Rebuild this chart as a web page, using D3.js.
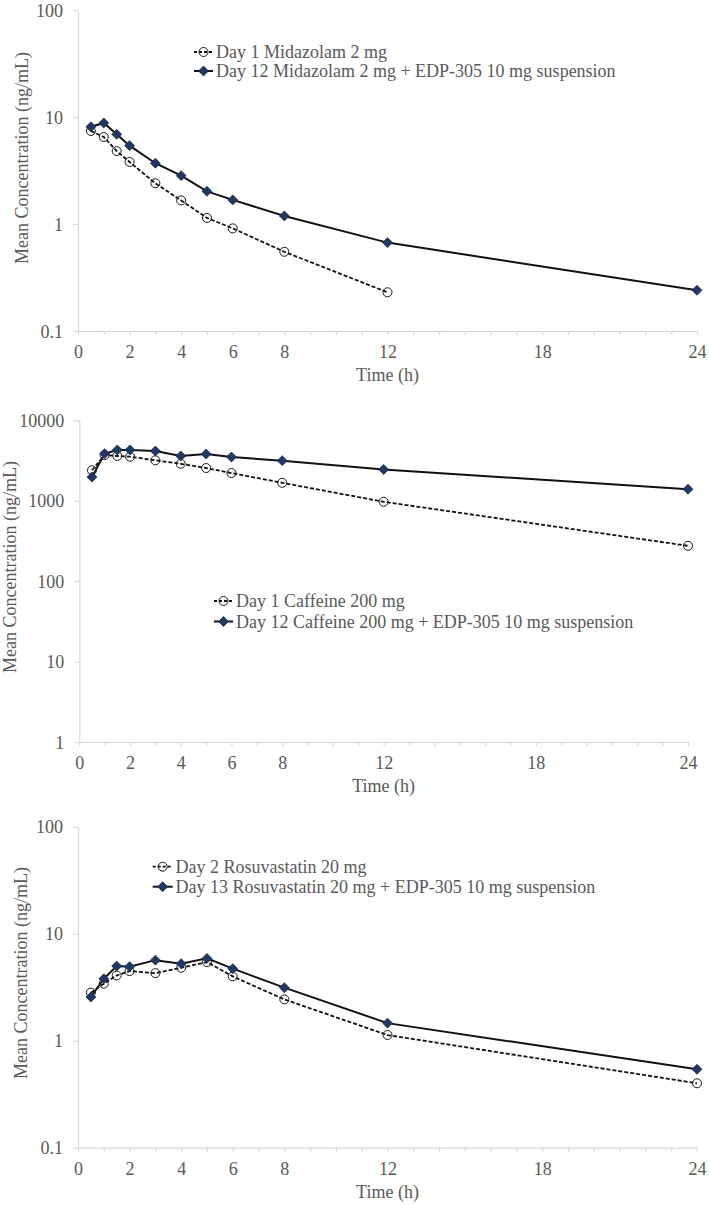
<!DOCTYPE html>
<html>
<head>
<meta charset="utf-8">
<script src="https://cdnjs.cloudflare.com/ajax/libs/d3/7.8.5/d3.min.js"></script>
<style>
  html, body { margin: 0; padding: 0; background: #fff; }
  svg { display: block; }
  text { font-family: "Liberation Serif", "Times New Roman", serif; fill: #595959; }
</style>
</head>
<body>
<svg id="chart" width="709" height="1205"></svg>
<script>
// ---------- DATA ----------
const timesFull = [0.5, 1, 1.5, 2, 3, 4, 5, 6, 8, 12, 24];
const timesMidazolamDay1 = [0.5, 1, 1.5, 2, 3, 4, 5, 6, 8, 12];

const midazolamDay1 = [7.4, 6.5, 4.8, 3.8, 2.4, 1.66, 1.14, 0.91, 0.55, 0.23];
const midazolamDay12 = [8.1, 8.8, 6.9, 5.4, 3.7, 2.83, 2.02, 1.68, 1.19, 0.67, 0.24];

const caffeineDay1 = [2390, 3700, 3600, 3530, 3180, 2880, 2550, 2210, 1670, 970, 275];
const caffeineDay12 = [1970, 3850, 4280, 4280, 4150, 3600, 3810, 3490, 3150, 2450, 1390];

const rosuvastatinDay2 = [2.81, 3.41, 4.07, 4.47, 4.28, 4.81, 5.43, 3.99, 2.43, 1.13, 0.40];
const rosuvastatinDay13 = [2.56, 3.79, 4.98, 4.92, 5.66, 5.25, 5.88, 4.71, 3.13, 1.46, 0.54];

const xTickLabels = [0, 2, 4, 6, 8, 12, 18, 24];
const yTicksMidazolam = [0.1, 1, 10, 100];
const yTicksCaffeine = [1, 10, 100, 1000, 10000];
const yTicksRosuvastatin = [0.1, 1, 10, 100];

const legendMidazolam = ["Day 1 Midazolam 2 mg", "Day 12 Midazolam 2 mg + EDP-305 10 mg suspension"];
const legendCaffeine = ["Day 1 Caffeine 200 mg", "Day 12 Caffeine 200 mg + EDP-305 10 mg suspension"];
const legendRosuvastatin = ["Day 2 Rosuvastatin 20 mg", "Day 13 Rosuvastatin 20 mg + EDP-305 10 mg suspension"];

const xAxisTitle = "Time (h)";
const yAxisTitle = "Mean Concentration (ng/mL)";

// ---------- LAYOUT ----------
const panels = [
  { ref: { t: timesMidazolamDay1, v: midazolamDay1 }, test: { t: timesFull, v: midazolamDay12 },
    yTicks: yTicksMidazolam, legend: legendMidazolam,
    left: 78, right: 697, top: 10, bottom: 331,
    leg: { x0: 194, x1: 213, tx: 216, y: [52, 71] }, yTitle: { x: 22, y: 158 } },
  { ref: { t: timesFull, v: caffeineDay1 }, test: { t: timesFull, v: caffeineDay12 },
    yTicks: yTicksCaffeine, legend: legendCaffeine,
    left: 79.3, right: 688, top: 420.3, bottom: 742,
    leg: { x0: 214, x1: 233, tx: 236, y: [601, 621.5] }, yTitle: { x: 10, y: 567 } },
  { ref: { t: timesFull, v: rosuvastatinDay2 }, test: { t: timesFull, v: rosuvastatinDay13 },
    yTicks: yTicksRosuvastatin, legend: legendRosuvastatin,
    left: 78, right: 697, top: 826.7, bottom: 1147.7,
    leg: { x0: 152.7, x1: 172.7, tx: 175.5, y: [866.7, 886.7] }, yTitle: { x: 21, y: 973 } }
];

const svg = d3.select("#chart");
const axisColor = "#d9d9d9";
const textColor = "#595959";
const fontSize = 18;
const diamondFill = "#1f3864";
const diamond = d3.symbol().type(d3.symbolDiamond2).size(2 * 5.6 * 5.6);

function drawCircle(g, cx, cy) {
  g.append("circle").attr("cx", cx).attr("cy", cy).attr("r", 4.5)
    .attr("fill", "none").attr("stroke", "#1a1a1a").attr("stroke-width", 1);
}
function drawDiamond(g, cx, cy) {
  g.append("path").attr("d", diamond).attr("transform", `translate(${cx},${cy})`)
    .attr("fill", diamondFill).attr("stroke", "#1b2a48").attr("stroke-width", 0.8);
}

panels.forEach(p => {
  const g = svg.append("g");
  const x = d3.scaleLinear().domain([0, 24]).range([p.left, p.right]);
  const yMin = d3.min(p.yTicks), yMax = d3.max(p.yTicks);
  const y = d3.scaleLog().domain([yMin, yMax]).range([p.bottom, p.top]);

  // X axis
  const xAxis = d3.axisBottom(x)
    .tickValues(d3.range(0, 25))
    .tickFormat(d => xTickLabels.includes(d) ? String(d) : "")
    .tickSize(4).tickSizeOuter(0);
  const gx = g.append("g").attr("transform", `translate(0,${p.bottom})`).call(xAxis);
  gx.select(".domain").attr("stroke", axisColor).attr("stroke-width", 1.2);
  gx.selectAll(".tick line").attr("stroke", axisColor).attr("stroke-width", 1.2);
  gx.selectAll(".tick text").attr("y", 21).attr("dy", null)
    .attr("dominant-baseline", "central")
    .style("font-size", fontSize + "px").style("font-family", '"Liberation Serif", serif')
    .attr("fill", textColor);

  // Y axis
  const yAxis = d3.axisLeft(y).tickValues(p.yTicks)
    .tickFormat(d => String(d)).tickSize(5).tickSizeOuter(0).tickPadding(10);
  const gy = g.append("g").attr("transform", `translate(${p.left},0)`).call(yAxis);
  gy.select(".domain").attr("stroke", axisColor).attr("stroke-width", 1.2);
  gy.selectAll(".tick line").attr("stroke", axisColor).attr("stroke-width", 1.2);
  gy.selectAll(".tick text").attr("dy", null).attr("dominant-baseline", "central")
    .style("font-size", fontSize + "px").style("font-family", '"Liberation Serif", serif')
    .attr("fill", textColor);

  // Axis titles
  g.append("text").attr("x", (p.left + p.right) / 2).attr("y", p.bottom + 44)
    .attr("text-anchor", "middle").attr("dominant-baseline", "central")
    .style("font-size", fontSize + "px").text(xAxisTitle);
  g.append("text").attr("transform", `translate(${p.yTitle.x},${p.yTitle.y}) rotate(-90)`)
    .attr("text-anchor", "middle").attr("dominant-baseline", "central")
    .style("font-size", fontSize + "px").text(yAxisTitle);

  // Lines
  const line = d3.line().x(d => x(d[0])).y(d => y(d[1]));
  const refPts = p.ref.t.map((t, i) => [t, p.ref.v[i]]);
  const testPts = p.test.t.map((t, i) => [t, p.test.v[i]]);

  g.append("path").datum(refPts).attr("d", line).attr("fill", "none")
    .attr("stroke", "#111").attr("stroke-width", 1.8).attr("stroke-dasharray", "4,2");
  g.append("path").datum(testPts).attr("d", line).attr("fill", "none")
    .attr("stroke", "#111").attr("stroke-width", 2);

  refPts.forEach(d => drawCircle(g, x(d[0]), y(d[1])));
  testPts.forEach(d => drawDiamond(g, x(d[0]), y(d[1])));

  // Legend
  const L = p.leg;
  const mid = (L.x0 + L.x1) / 2;
  g.append("line").attr("x1", L.x0).attr("x2", L.x1).attr("y1", L.y[0]).attr("y2", L.y[0])
    .attr("stroke", "#111").attr("stroke-width", 1.8).attr("stroke-dasharray", "3,2");
  drawCircle(g, mid, L.y[0]);
  g.append("line").attr("x1", L.x0).attr("x2", L.x1).attr("y1", L.y[1]).attr("y2", L.y[1])
    .attr("stroke", "#111").attr("stroke-width", 2);
  drawDiamond(g, mid, L.y[1]);
  p.legend.forEach((txt, i) => {
    g.append("text").attr("x", L.tx).attr("y", L.y[i]).attr("dominant-baseline", "central")
      .style("font-size", fontSize + "px").text(txt);
  });
});
</script>
</body>
</html>
